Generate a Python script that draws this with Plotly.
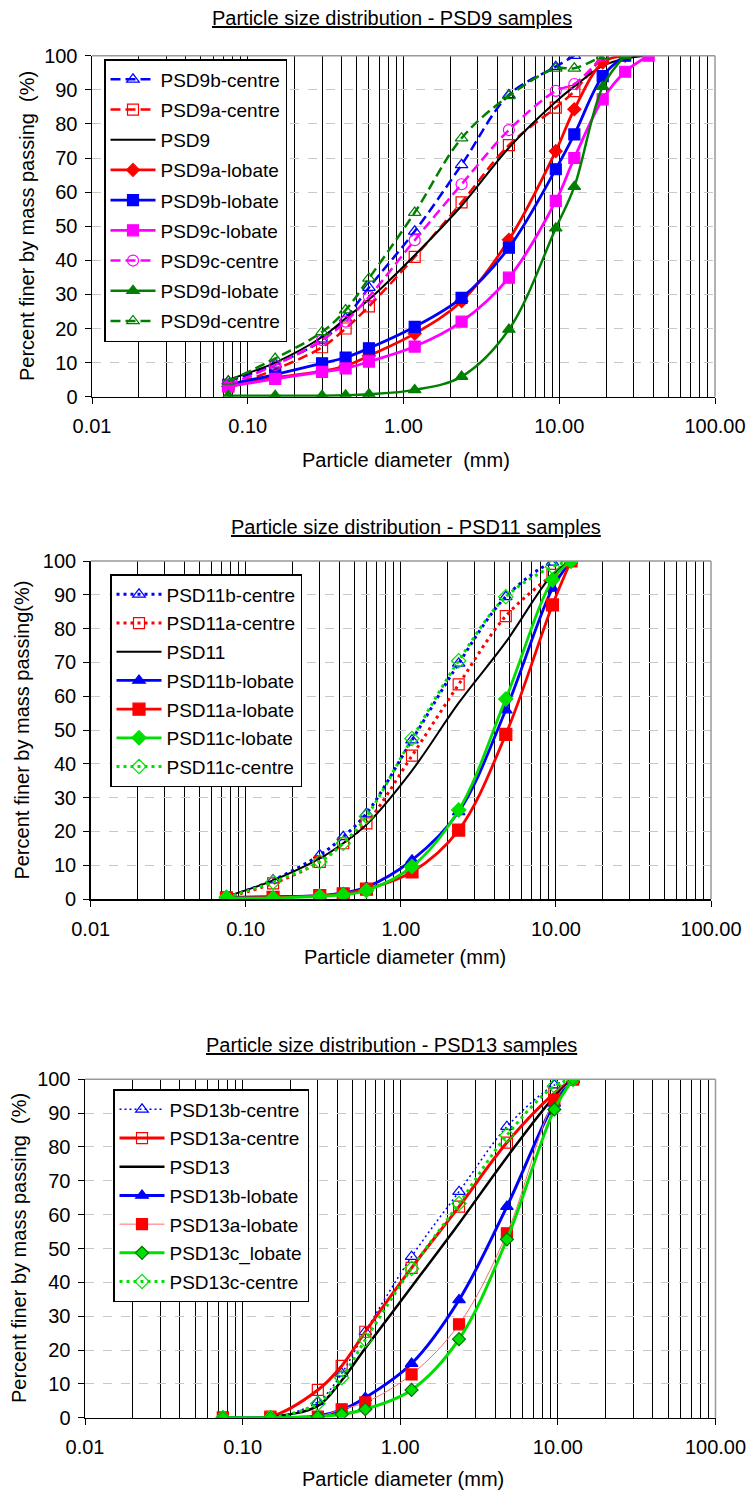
import plotly.graph_objects as go

# ---------------- data ----------------
sizes = [0.075, 0.15, 0.3, 0.425, 0.6, 1.18, 2.36, 4.75, 9.5, 12.5, 19, 26.5, 37.5]

# PSD9 chart
psd9b_centre = [4.5, 9.5, 16.5, 23, 32, 48.5, 68, 88.5, 96.8, 100]
psd9a_centre = [3, 8, 14.5, 20, 26.5, 41, 57, 73.8, 84.8, 89.6, 100]
psd9 = [5, 10, 17.5, 23, 28.5, 41.5, 56, 73, 86.5, 91, 97, 99.2, 100]
psd9a_lobate = [3, 5.5, 7.5, 9, 12, 18.5, 28, 46, 72, 84.3, 98, 100]
psd9b_lobate = [3.5, 6.5, 9.8, 11.5, 14.2, 20.5, 29, 43.7, 66.7, 76.9, 94, 100]
psd9c_lobate = [3, 5.2, 7.3, 8.3, 10.3, 14.7, 22, 34.9, 57.4, 70, 87.2, 95.3, 100]
psd9c_centre = [3.5, 9.3, 16.6, 22, 29.3, 45.9, 62.3, 78.2, 89.7, 91.7, 100]
psd9d_lobate = [0.3, 0.3, 0.3, 0.4, 0.7, 2, 5.9, 19.7, 49.4, 61.6, 90.9, 100]
psd9d_centre = [4.5, 11.2, 19, 25.4, 34.7, 54, 75.8, 88.2, 96.3, 96.3, 100]

# PSD11 chart
psd11b_centre = [0.5, 5.6, 13, 18.4, 25.3, 47, 69.7, 89.4, 99.6, 100]
psd11a_centre = [0.5, 4.6, 11, 16.5, 22.4, 42.4, 63.5, 83.7, 95.9, 100]
psd11 = [0.7, 5.5, 12, 16.5, 22, 38, 58, 76, 96, 100]
psd11b_lobate = [0.5, 0.7, 1, 1.8, 3.5, 11.5, 25.8, 55.9, 91.9, 100]
psd11a_lobate = [0.3, 0.5, 1, 1.5, 2.9, 8, 20.4, 48.7, 87, 100]
psd11c_lobate = [0.3, 0.3, 0.8, 1.2, 2.5, 9.6, 26.3, 59.2, 94.4, 100]
psd11c_centre = [0.5, 5, 11, 16.5, 24.4, 47.5, 70.5, 89.4, 98.3, 100]

# PSD13 chart
psd13b_centre = [0, 0, 4.7, 13.1, 25.4, 47.6, 66.8, 86, 98.3, 100]
psd13a_centre = [0, 0.3, 8.2, 15.3, 25.4, 44.3, 62.4, 81.3, 95.9, 100]
psd13 = [0, 0.2, 3.5, 11, 20.5, 38.7, 57.4, 77, 94.9, 100]
psd13b_lobate = [0, 0, 0.5, 2.3, 5.9, 16, 34.8, 62.4, 92.9, 100]
psd13a_lobate = [0, 0, 0.3, 2.5, 4.5, 12.8, 27.6, 54.5, 93.9, 100]
psd13c_lobate = [0, 0, 0.3, 1, 2.5, 8.2, 23.2, 52.7, 91.1, 100]
psd13c_centre = [0, 0, 4.2, 11.8, 23, 44.1, 63.3, 83.5, 98, 100]

x_tickvals = [0.01, 0.1, 1, 10, 100]
x_ticktext = ["0.01", "0.10", "1.00", "10.00", "100.00"]
minor_vals = [m * 10 ** e for e in range(-2, 2) for m in range(2, 10)]

FONT = "Liberation Sans, Arial, sans-serif"
W, H = 749, 1492
BLUE, RED, MAG, DGREEN, LIME, BLACK = "#0000FF", "#FF0000", "#FF00FF", "#008000", "#00E000", "#000000"

def px(xp):
    return xp / W

def py(yp):
    return 1 - yp / H

fig = go.Figure()

def add(xn, yn, leg, name, y, color, width=2.5, dash="solid", symbol=None, msize=10,
        mfill=None, mline=None, lcolor=None):
    x = sizes[:len(y)]
    mode = "lines+markers" if symbol else "lines"
    marker = {}
    if symbol:
        marker = dict(symbol=symbol, size=msize, color=mfill or color,
                      line=dict(color=mline or color, width=1.2))
    fig.add_trace(go.Scatter(
        x=x, y=y, name=name, mode=mode, xaxis=xn, yaxis=yn, legend=leg,
        legendgroup=name + leg,
        line=dict(color=lcolor or color, width=width, dash=dash, shape="spline", smoothing=1.0),
        marker=marker, showlegend=True))

DASH = "10px,5px"
# chart 1
add("x", "y", "legend", "PSD9b-centre", psd9b_centre, BLUE, dash=DASH, symbol="triangle-up-open", msize=11)
add("x", "y", "legend", "PSD9a-centre", psd9a_centre, RED, dash=DASH, symbol="square-open", msize=11)
add("x", "y", "legend", "PSD9", psd9, BLACK, width=2)
add("x", "y", "legend", "PSD9a-lobate", psd9a_lobate, RED, width=2.8, symbol="diamond", msize=10)
add("x", "y", "legend", "PSD9b-lobate", psd9b_lobate, BLUE, width=2.8, symbol="square", msize=11)
add("x", "y", "legend", "PSD9c-lobate", psd9c_lobate, MAG, width=2.8, symbol="square", msize=11)
add("x", "y", "legend", "PSD9c-centre", psd9c_centre, MAG, dash=DASH, symbol="circle-open", msize=11)
add("x", "y", "legend", "PSD9d-lobate", psd9d_lobate, DGREEN, width=2.5, symbol="triangle-up", msize=11)
add("x", "y", "legend", "PSD9d-centre", psd9d_centre, DGREEN, dash=DASH, symbol="triangle-up-open", msize=11)

DOT = "3px,4px"
# chart 2
add("x2", "y2", "legend2", "PSD11b-centre", psd11b_centre, BLUE, width=3, dash=DOT, symbol="triangle-up-open", msize=11)
add("x2", "y2", "legend2", "PSD11a-centre", psd11a_centre, RED, width=3, dash=DOT, symbol="square-open", msize=11)
add("x2", "y2", "legend2", "PSD11", psd11, BLACK, width=2)
add("x2", "y2", "legend2", "PSD11b-lobate", psd11b_lobate, BLUE, width=2.8, symbol="triangle-up", msize=11)
add("x2", "y2", "legend2", "PSD11a-lobate", psd11a_lobate, RED, width=2.8, symbol="square", msize=12)
add("x2", "y2", "legend2", "PSD11c-lobate", psd11c_lobate, LIME, width=2.8, symbol="diamond", msize=11)
add("x2", "y2", "legend2", "PSD11c-centre", psd11c_centre, LIME, width=3, dash=DOT, symbol="diamond-open", msize=11)

# chart 3
add("x3", "y3", "legend3", "PSD13b-centre", psd13b_centre, BLUE, width=1.5, dash="2px,3px", symbol="triangle-up-open", msize=11)
add("x3", "y3", "legend3", "PSD13a-centre", psd13a_centre, RED, width=3, symbol="square-open", msize=11)
add("x3", "y3", "legend3", "PSD13", psd13, BLACK, width=2.5)
add("x3", "y3", "legend3", "PSD13b-lobate", psd13b_lobate, BLUE, width=3, symbol="triangle-up", msize=11)
add("x3", "y3", "legend3", "PSD13a-lobate", psd13a_lobate, RED, width=1, symbol="square", msize=11, lcolor="#FF6A6A")
add("x3", "y3", "legend3", "PSD13c_lobate", psd13c_lobate, LIME, width=3, symbol="diamond", msize=10, mline="#007000")
add("x3", "y3", "legend3", "PSD13c-centre", psd13c_centre, LIME, width=3, dash=DOT, symbol="diamond-open", msize=11)

# ---------------- layout ----------------
# plot areas in page pixels: (left, right, top, bottom)
areas = [(92, 715, 55.7, 396.7), (90.7, 711, 561, 899), (85, 715.5, 1079.3, 1417.7)]

layout = dict(width=W, height=H, margin=dict(l=0, r=0, t=0, b=0, autoexpand=False), autosize=False,
              paper_bgcolor="white", plot_bgcolor="white", hovermode=False,
              font=dict(family=FONT, color="black", size=19), showlegend=True)

shapes = []
for i, (l, r, t, b) in enumerate(areas):
    sfx = "" if i == 0 else str(i + 1)
    xd = [px(l), px(r)]
    yd = [py(b), py(t)]
    layout["xaxis" + sfx] = dict(
        type="log", range=[-2, 2], domain=xd, anchor="y" + sfx, automargin=False,
        tickvals=x_tickvals, ticktext=x_ticktext, ticks="outside", ticklen=6,
        tickcolor="black", tickwidth=1, showline=True, linecolor="black", linewidth=1.5,
        showgrid=True, gridcolor="black", gridwidth=1, zeroline=False,
        tickfont=dict(size=20, family=FONT), ticklabelstandoff=5,
        minor=dict(tickvals=minor_vals, showgrid=True, gridcolor="black", gridwidth=1, ticks=""))
    layout["yaxis" + sfx] = dict(
        range=[0, 100], domain=yd, anchor="x" + sfx, dtick=10, tick0=0, automargin=False,
        ticks="outside", ticklen=6, tickcolor="black", showline=True, linecolor="black",
        linewidth=1.5, showgrid=True, gridcolor="#C8C8C8", griddash="dash", gridwidth=1,
        zeroline=False, tickfont=dict(size=20, family=FONT), ticklabelstandoff=3)
    xr = "x" + sfx + " domain"
    yr = "y" + sfx + " domain"
    shapes.append(dict(type="line", xref=xr, yref=yr, x0=0, x1=1, y0=1, y1=1,
                       line=dict(color="#999999", width=1.5)))
    shapes.append(dict(type="line", xref=xr, yref=yr, x0=1, x1=1, y0=0, y1=1,
                       line=dict(color="#999999", width=1.5)))
layout["shapes"] = shapes

legend_pos = [(104, 59, 2.5), (110, 574, 1), (113, 1089, 1)]
for i, (lx, ly, gap) in enumerate(legend_pos):
    key = "legend" if i == 0 else "legend" + str(i + 1)
    layout[key] = dict(x=px(lx), y=py(ly), xanchor="left", yanchor="top",
                       xref="paper", yref="paper",
                       bgcolor="white", bordercolor="black", borderwidth=1.5,
                       font=dict(size=19, family=FONT, color="black"),
                       traceorder="grouped", tracegroupgap=gap, itemwidth=45)

titles = ["Particle size distribution - PSD9 samples",
          "Particle size distribution - PSD11 samples",
          "Particle size distribution - PSD13 samples"]
title_pos = [(392, 18), (416, 526.7), (392, 1045)]
xtitles = ["Particle diameter \u00a0(mm)", "Particle diameter (mm)", "Particle diameter (mm)"]
xtitle_pos = [(406, 460), (405, 956.7), (402.5, 1479)]
ytitles = ["Percent finer by mass passing \u00a0(%)", "Percent finer by mass passing(%)",
           "Percent finer by mass passing \u00a0(%)"]
ytitle_pos = [(27, 226), (21.6, 730), (19, 1248)]

ann = []
for i in range(3):
    ann.append(dict(text="<u>" + titles[i] + "</u>", x=px(title_pos[i][0]), y=py(title_pos[i][1]),
                    xref="paper", yref="paper", showarrow=False, xanchor="center", yanchor="middle",
                    font=dict(size=20, family=FONT)))
    ann.append(dict(text=xtitles[i], x=px(xtitle_pos[i][0]), y=py(xtitle_pos[i][1]),
                    xref="paper", yref="paper", showarrow=False, xanchor="center", yanchor="middle",
                    font=dict(size=20, family=FONT)))
    ann.append(dict(text=ytitles[i], x=px(ytitle_pos[i][0]), y=py(ytitle_pos[i][1]),
                    xref="paper", yref="paper", showarrow=False, xanchor="center", yanchor="middle",
                    textangle=-90, font=dict(size=20, family=FONT)))
layout["annotations"] = ann

fig.update_layout(**layout)
fig.write_html("out.html", config={"displayModeBar": False, "staticPlot": True},
               post_script="document.body.style.margin='0';document.body.style.overflow='hidden';")
